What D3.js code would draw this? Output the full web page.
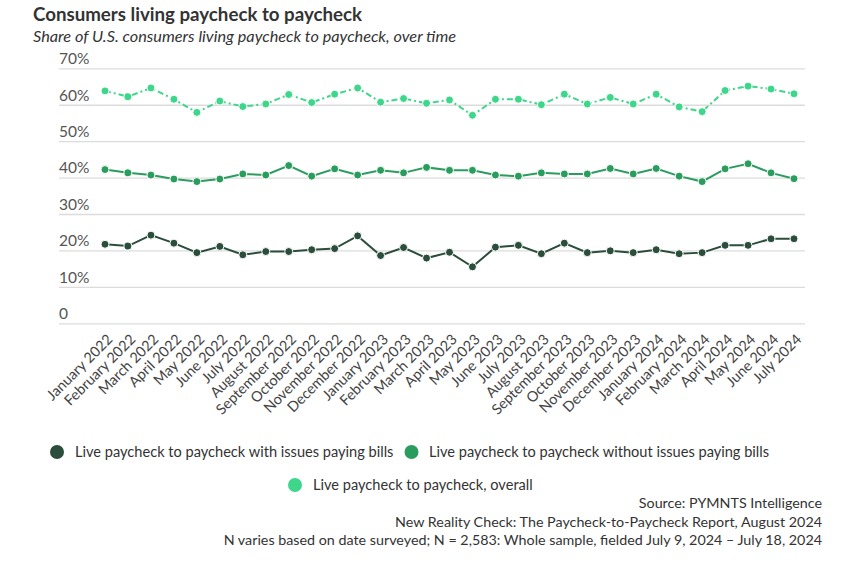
<!DOCTYPE html>
<html>
<head>
<meta charset="utf-8">
<script src="https://cdn.jsdelivr.net/npm/d3@7"></script>
<style>
  html, body { margin: 0; padding: 0; background: #fff; }
  svg { display: block; font-family: Lato, "Open Sans", sans-serif; }
</style>
</head>
<body>
<svg id="chart" width="863" height="576"></svg>
<script>
const months = ["January 2022","February 2022","March 2022","April 2022","May 2022","June 2022","July 2022","August 2022","September 2022","October 2022","November 2022","December 2022","January 2023","February 2023","March 2023","April 2023","May 2023","June 2023","July 2023","August 2023","September 2023","October 2023","November 2023","December 2023","January 2024","February 2024","March 2024","April 2024","May 2024","June 2024","July 2024"];

const withIssues = [21.7,21.2,24.2,22.0,19.4,21.1,18.8,19.7,19.7,20.2,20.5,24.0,18.6,20.8,17.9,19.5,15.5,20.9,21.4,19.1,22.0,19.4,19.9,19.4,20.2,19.1,19.4,21.4,21.4,23.2,23.2];
const withoutIssues = [42.2,41.3,40.7,39.6,38.9,39.6,41.0,40.7,43.3,40.4,42.4,40.7,42.0,41.3,42.8,42.0,42.0,40.7,40.4,41.3,41.0,41.0,42.5,41.0,42.5,40.4,38.9,42.4,43.8,41.3,39.7];
const overall = [63.8,62.2,64.6,61.5,57.9,61.0,59.5,60.2,62.8,60.6,62.9,64.6,60.7,61.7,60.4,61.3,57.1,61.5,61.5,60.0,62.9,60.2,62.0,60.2,62.9,59.4,58.1,63.9,65.1,64.3,63.0];

const yTicks = [0,10,20,30,40,50,60,70];
const yTickLabels = ["0","10%","20%","30%","40%","50%","60%","70%"];

const seriesNames = ["Live paycheck to paycheck with issues paying bills","Live paycheck to paycheck without issues paying bills","Live paycheck to paycheck, overall"];
const seriesColors = ["#2b4d3b","#2a9d5e","#3dd68a"];
const seriesDash = [null, null, "6,3,2,3"];
const seriesValues = [withIssues, withoutIssues, overall];

const title = "Consumers living paycheck to paycheck";
const subtitle = "Share of U.S. consumers living paycheck to paycheck, over time";
const footer = ["Source: PYMNTS Intelligence","New Reality Check: The Paycheck-to-Paycheck Report, August 2024","N varies based on date surveyed; N = 2,583: Whole sample, fielded July 9, 2024 – July 18, 2024"];

const svg = d3.select("#chart");

const x = d3.scalePoint().domain(months).range([105, 794]);
const y = d3.scaleLinear().domain([0, 70]).range([323.3, 68.3]);
const gridX0 = 59, gridX1 = 805;

// Title & subtitle
svg.append("text").attr("x", 33).attr("y", 20.5)
  .attr("font-size", 18.7).attr("font-weight", 700).attr("fill", "#333").text(title);
svg.append("text").attr("x", 33).attr("y", 42)
  .attr("font-size", 16.3).attr("font-style", "italic").attr("fill", "#333").text(subtitle);

// Gridlines and y labels
const yAxis = d3.axisLeft(y).tickValues(yTicks).tickSize(0).tickFormat((d, i) => yTickLabels[i]);
const gy = svg.append("g").attr("transform", `translate(${gridX0},0)`).call(yAxis);
gy.select(".domain").remove();
gy.selectAll(".tick line").attr("x1", 0).attr("x2", gridX1 - gridX0).attr("stroke", "#dcdcdc").attr("stroke-width", 1.3);
gy.selectAll(".tick text")
  .attr("x", 0).attr("dy", "-0.3em").attr("text-anchor", "start")
  .attr("font-family", "Lato, sans-serif").attr("font-size", 15.5).attr("fill", "#555");

// X axis labels
const xAxis = d3.axisBottom(x).tickSize(0);
const gx = svg.append("g").attr("transform", `translate(0,${y(0)})`).call(xAxis);
gx.select(".domain").remove();
gx.selectAll(".tick text")
  .attr("font-family", "Lato, sans-serif").attr("font-size", 14.5).attr("fill", "#444")
  .attr("text-anchor", "end").attr("dy", 0).attr("y", 0)
  .attr("transform", "translate(8,17) rotate(-45)");

// Lines and markers
const line = d3.line().x((d, i) => x(months[i])).y(d => y(d));
seriesValues.forEach((vals, s) => {
  const g = svg.append("g");
  g.append("path").datum(vals)
    .attr("d", line).attr("fill", "none")
    .attr("stroke", seriesColors[s]).attr("stroke-width", 2)
    .attr("stroke-dasharray", seriesDash[s]);
  g.selectAll("circle").data(vals).join("circle")
    .attr("cx", (d, i) => x(months[i])).attr("cy", d => y(d))
    .attr("r", 4).attr("fill", seriesColors[s])
    .attr("stroke", "#fff").attr("stroke-width", 1);
});

// Legend
const legendItems = [
  {cx: 57, cy: 452, tx: 75},
  {cx: 411.5, cy: 452, tx: 429},
  {cx: 295, cy: 485, tx: 313}
];
legendItems.forEach((p, i) => {
  svg.append("circle").attr("cx", p.cx).attr("cy", p.cy).attr("r", 7).attr("fill", seriesColors[i]);
  svg.append("text").attr("x", p.tx).attr("y", p.cy + 5)
    .attr("font-size", 14.6).attr("fill", "#333").text(seriesNames[i]);
});

// Footer
footer.forEach((t, i) => {
  svg.append("text").attr("x", 822).attr("y", 508 + i * 18.5)
    .attr("text-anchor", "end").attr("font-size", 14.3).attr("fill", "#333").text(t);
});
</script>
</body>
</html>
